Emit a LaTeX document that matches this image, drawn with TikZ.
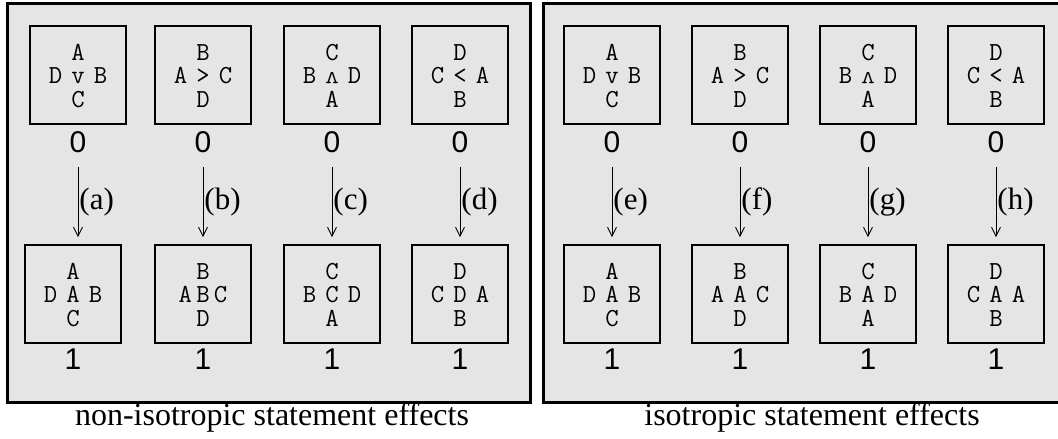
\documentclass[tikz,border=0pt]{standalone}
\usepackage{fontspec}
\usepackage{graphicx}
\setmainfont{Liberation Serif}
\newfontfamily\digitfont{Liberation Sans}
\usetikzlibrary{arrows.meta,calc}

% logical connectives drawn as small v shapes
\newcommand\orsym{v}
\newcommand\andsym{\raisebox{\depth}{\scalebox{1}[-1]{v}}}

% five letters arranged as a cross inside a state box
% #1 box name, #2 top, #3 left, #4 centre, #5 right, #6 bottom, #7 horizontal gap
\newcommand\crossletters[7]{%
  \node[glyph] (#1-t) at ([yshift=15pt]#1.center) {#2};
  \node[glyph] (#1-m) at ([yshift=-8.5pt]#1.center) {#4};
  \node[glyph] (#1-l) at ([xshift=-#7pt]#1-m.base) {#3};
  \node[glyph] (#1-r) at ([xshift=#7pt]#1-m.base) {#5};
  \node[glyph] (#1-b) at ([yshift=-32pt]#1.center) {#6};
}

\begin{document}
\begin{tikzpicture}[x=1pt,y=-1pt,
  panel/.style={draw=black, line width=3pt, fill=gray!20},
  statebox/.style={draw=black, line width=1.6pt, minimum width=96pt,
    minimum height=98pt, inner sep=0pt},
  glyph/.style={font=\ttfamily\fontsize{26}{26}\selectfont, inner sep=0pt, anchor=base},
  count/.style={font=\digitfont\fontsize{30}{30}\selectfont, inner sep=0pt, anchor=base},
  tag/.style={font=\fontsize{31}{31}\selectfont, inner sep=1pt, right},
  caption/.style={font=\fontsize{32}{32}\selectfont, inner sep=0pt, anchor=base},
  effect/.style={line width=0.9pt, -{Straight Barb[length=9pt,width=9pt]}}]
\useasboundingbox (0,0) rectangle (1058,439);

% the two panels
\draw[panel] (7,3) rectangle (530,402);
\draw[panel] (543,3) rectangle (1075,402);

% initial states
\foreach \i/\x/\T/\L/\M/\R/\B in {
    1/78/A/D/\orsym/B/C, 2/203/B/A/>/C/D, 3/332/C/B/\andsym/D/A, 4/460/D/C/</A/B,
    5/612/A/D/\orsym/B/C, 6/740/B/A/>/C/D, 7/868/C/B/\andsym/D/A, 8/996/D/C/</A/B}{
  \node[statebox] (t\i) at (\x,75) {};
  \crossletters{t\i}{\T}{\L}{\M}{\R}{\B}{22.5}
  \node[count] (z\i) at ([yshift=-77pt]t\i.center) {0};
}

% resulting states
\foreach \i/\x/\T/\L/\M/\R/\B/\g in {
    1/73/A/D/A/B/C/22.5, 2/203/B/A/B/C/D/17.6, 3/332/C/B/C/D/A/22.5, 4/460/D/C/D/A/B/22.5,
    5/612/A/D/A/B/C/22.5, 6/740/B/A/A/C/D/22.5, 7/868/C/B/A/D/A/22.5, 8/996/D/C/A/A/B/22.5}{
  \node[statebox] (b\i) at (\x,294) {};
  \crossletters{b\i}{\T}{\L}{\M}{\R}{\B}{\g}
  \node[count] (o\i) at ([yshift=-75pt]b\i.center) {1};
}

% statement effects
\foreach \i/\lab in {1/a,2/b,3/c,4/d,5/e,6/f,7/g,8/h}{
  \draw[effect] ($(z\i.base)+(0,15)$) -- ($(t\i.center |- b\i.north)+(0,-7)$)
    node[tag, midway] (lab\i) {(\lab)};
}

% captions
\node[caption] (capL) at (272,425) {non-isotropic statement effects};
\node[caption] (capR) at (812,425) {isotropic statement effects};
\end{tikzpicture}
\end{document}
